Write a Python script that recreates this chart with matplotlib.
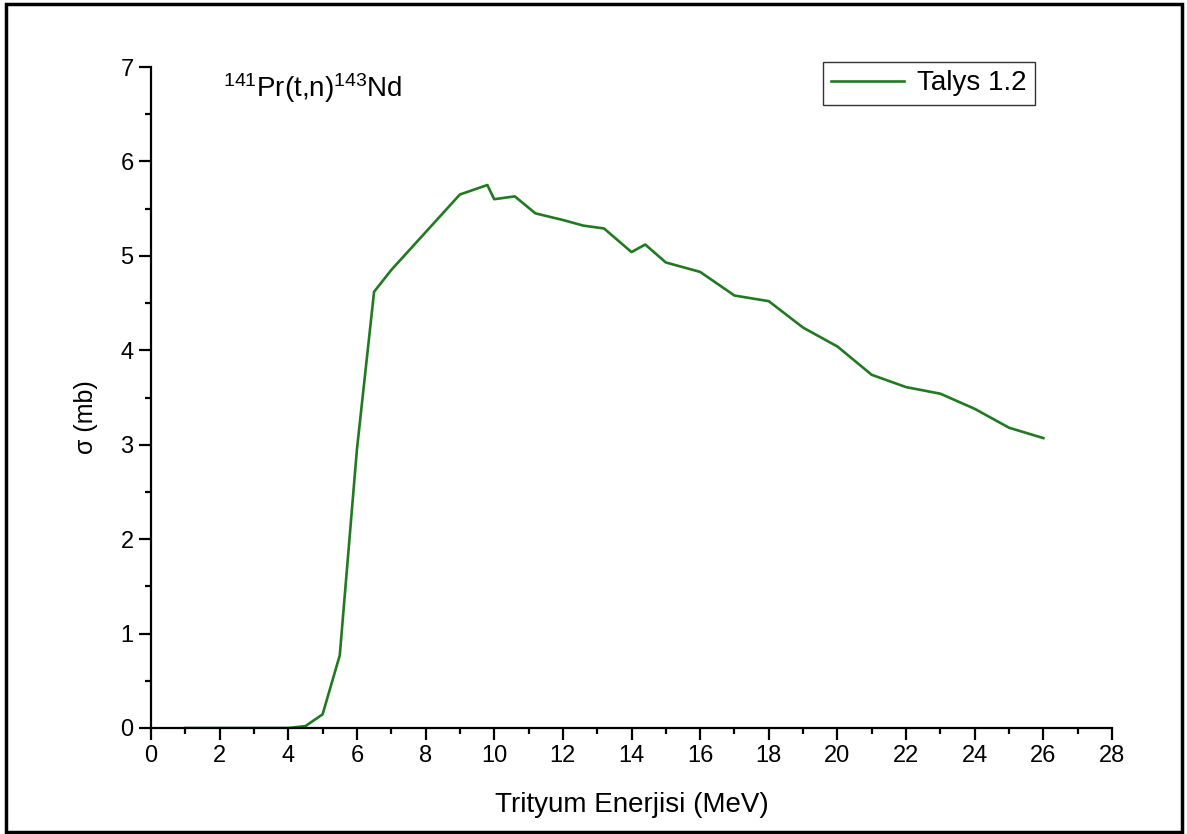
import matplotlib
matplotlib.use("Agg")
import matplotlib.pyplot as plt
from matplotlib.patches import Rectangle
from matplotlib.ticker import MultipleLocator

plt.rcParams['font.family'] = ['Liberation Sans', 'DejaVu Sans']
plt.rcParams['mathtext.fontset'] = 'custom'
plt.rcParams['mathtext.rm'] = 'Liberation Sans'
plt.rcParams['mathtext.it'] = 'Liberation Sans:italic'

energy = [1, 2, 3, 4, 4.5, 5, 5.5, 6, 6.5, 7, 8, 9, 9.8, 10, 10.6, 11.2, 12, 12.6,
          13.2, 14, 14.4, 15, 16, 17, 18, 19, 20, 21, 22, 23, 24, 25, 26]
sigma = [0, 0, 0, 0, 0.02, 0.145, 0.77, 2.95, 4.62, 4.85, 5.25, 5.65, 5.75, 5.60, 5.63,
         5.45, 5.38, 5.32, 5.29, 5.04, 5.12, 4.93, 4.83, 4.58, 4.52, 4.24, 4.04, 3.74,
         3.61, 3.54, 3.38, 3.18, 3.07]
series_label = "Talys 1.2"
title_text = r"$^{141}$Pr(t,n)$^{143}$Nd"
xlabel = "Trityum Enerjisi (MeV)"
ylabel = "σ (mb)"

fig = plt.figure(figsize=(11.87, 8.34), dpi=100)
ax = fig.add_axes([151/1187, 1-728/834, (1112-151)/1187, (728-67)/834])

ax.plot(energy, sigma, color='#217a21', lw=1.9, label=series_label)

ax.set_xlim(0, 28)
ax.set_ylim(0, 7)
ax.xaxis.set_major_locator(MultipleLocator(2))
ax.xaxis.set_minor_locator(MultipleLocator(1))
ax.yaxis.set_major_locator(MultipleLocator(1))
ax.yaxis.set_minor_locator(MultipleLocator(0.5))
for s in ['top', 'right']:
    ax.spines[s].set_visible(False)
for s in ['left', 'bottom']:
    ax.spines[s].set_linewidth(1.6)
ax.tick_params(which='major', direction='out', length=8.5, width=1.6, labelsize=17, pad=4)
ax.tick_params(which='minor', direction='out', length=4.5, width=1.6)

ax.set_xlabel(xlabel, fontsize=20, labelpad=18)
ax.set_ylabel(ylabel, fontsize=18)
ax.yaxis.set_label_coords((98-151)/961, (728-417)/661)

ax.text(0.075, 0.968, title_text, transform=ax.transAxes, fontsize=20,
        ha='left', va='center')

leg = ax.legend(loc='upper left', bbox_to_anchor=((823-151)/961, (728-62)/661),
                borderaxespad=0, fontsize=20, frameon=True, fancybox=False,
                handlelength=2.6, borderpad=0.3, handletextpad=0.5)
leg.get_frame().set_edgecolor('black')
leg.get_frame().set_linewidth(1.0)

fig.patches.append(Rectangle((6/1187, 2/834), 1176/1187, 828/834, transform=fig.transFigure,
                             fill=False, edgecolor='black', linewidth=2.5))

fig.savefig("out.png", dpi=100)
